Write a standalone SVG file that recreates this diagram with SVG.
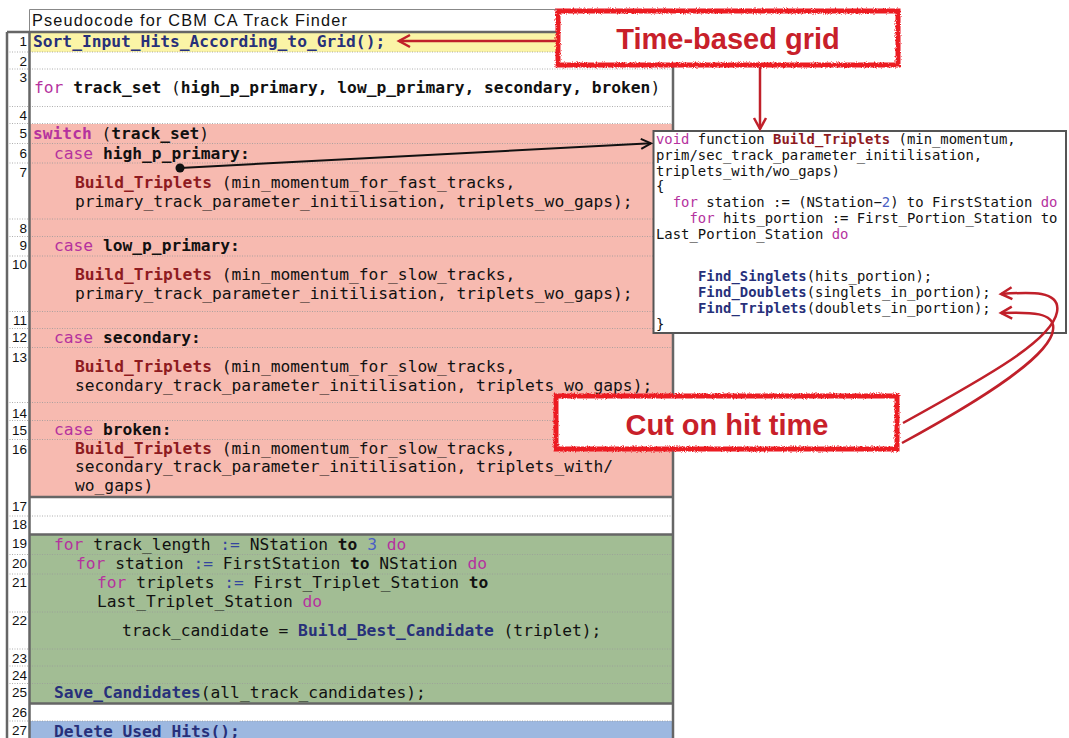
<svg xmlns="http://www.w3.org/2000/svg" width="1069" height="738" viewBox="0 0 1069 738">
<style>
.m{font-family:"DejaVu Sans Mono",monospace;font-size:16.25px;fill:#111;white-space:pre}
.p{font-family:"DejaVu Sans Mono",monospace;font-size:13.9px;fill:#111;white-space:pre}
.k{fill:#B5329E}
.b{font-weight:bold}
.fr{fill:#8E1B1F;font-weight:bold}
.fb{fill:#27307A;font-weight:bold}
.op{fill:#34459E}
.nb{fill:#4B5FC4}
.num{font-family:"Liberation Sans",Arial,sans-serif;font-size:13.5px;fill:#111;text-anchor:end}
.dot{stroke:#9a9a9a;stroke-width:0.8;stroke-dasharray:1 1.5;fill:none}
.thick{stroke:#666;stroke-width:2.5;fill:none}
.thin{stroke:#888;stroke-width:1;fill:none}
.note{fill:#fff;stroke:#EC1C24;stroke-width:5}
.notet{font-family:"Liberation Sans",Arial,sans-serif;font-weight:bold;font-size:29px;fill:#C8202A;text-anchor:middle}
.ra{stroke:#C0202A;stroke-width:2.5;fill:none}
</style>
<defs>
<filter id="rough" x="-5%" y="-20%" width="110%" height="140%">
<feTurbulence type="fractalNoise" baseFrequency="0.9" numOctaves="2" seed="4" result="n"/>
<feDisplacementMap in="SourceGraphic" in2="n" scale="3.5" xChannelSelector="R" yChannelSelector="G"/>
</filter>
<marker id="redhead" markerWidth="16" markerHeight="16" refX="13" refY="8" orient="auto" markerUnits="userSpaceOnUse">
<path d="M2,2 L13,8 L2,14" fill="none" stroke="#C0202A" stroke-width="2.5"/>
</marker>
<marker id="blackhead" markerWidth="16" markerHeight="14" refX="13" refY="7" orient="auto" markerUnits="userSpaceOnUse">
<path d="M3,2 L13,7 L3,12" fill="none" stroke="#111" stroke-width="2"/>
</marker>
</defs>
<rect width="1069" height="738" fill="#fff"/>

<g id="table">
<rect x="30" y="32" width="643" height="20" fill="#FBF4A6"/>
<rect x="30" y="124" width="643" height="373" fill="#F7BAB0"/>
<rect x="30" y="535" width="643" height="168" fill="#A2BD94"/>
<rect x="30" y="721" width="643" height="17" fill="#9DB8E0"/>
<path class="thin" d="M29.5,9.5 H673 M29.5,9.5 V32"/>
<text x="32" y="26" font-family="'Liberation Sans',Arial,sans-serif" font-size="16.3" fill="#111" textLength="315" lengthAdjust="spacing">Pseudocode for CBM CA Track Finder</text>
<path class="dot" d="M7,52 H673 M7,69 H673 M7,106.5 H673 M7,123.5 H673 M7,143.5 H673 M7,163 H673 M7,219 H673 M7,236.5 H673 M7,256 H673 M7,311.5 H673 M7,328.5 H673 M7,347.5 H673 M7,402.5 H673 M7,420.5 H673 M7,439.5 H673 M7,516 H673 M7,554.5 H673 M7,574 H673 M7,612 H673 M7,649 H673 M7,666 H673 M7,683.5 H673 M7,721 H673"/>
<path class="thick" d="M7,32 H673 M7,32 V738 M29.5,32 V738 M673,32 V738 M29.5,497 H673 M29.5,534.5 H673 M29.5,703.5 H673"/>
<text class="num" x="27" y="46">1</text>
<text class="num" x="27" y="66">2</text>
<text class="num" x="27" y="82">3</text>
<text class="num" x="27" y="120">4</text>
<text class="num" x="27" y="138">5</text>
<text class="num" x="27" y="158">6</text>
<text class="num" x="27" y="177">7</text>
<text class="num" x="27" y="233">8</text>
<text class="num" x="27" y="250">9</text>
<text class="num" x="27" y="268.5">10</text>
<text class="num" x="27" y="325">11</text>
<text class="num" x="27" y="341.5">12</text>
<text class="num" x="27" y="361.5">13</text>
<text class="num" x="27" y="418">14</text>
<text class="num" x="27" y="435">15</text>
<text class="num" x="27" y="454">16</text>
<text class="num" x="27" y="511">17</text>
<text class="num" x="27" y="529">18</text>
<text class="num" x="27" y="548">19</text>
<text class="num" x="27" y="567.5">20</text>
<text class="num" x="27" y="587">21</text>
<text class="num" x="27" y="624.5">22</text>
<text class="num" x="27" y="662.5">23</text>
<text class="num" x="27" y="680">24</text>
<text class="num" x="27" y="697">25</text>
<text class="num" x="27" y="717">26</text>
<text class="num" x="27" y="735">27</text>
<text class="m fb" x="33" y="47">Sort_Input_Hits_According_to_Grid();</text>
<text class="m" x="34" y="92.5"><tspan class="k">for</tspan> <tspan class="b">track_set</tspan> (<tspan class="b">high_p_primary, low_p_primary, secondary, broken</tspan>)</text>
<text class="m" x="33" y="138.5"><tspan class="k b">switch</tspan> (<tspan class="b">track_set</tspan>)</text>
<text class="m" x="54" y="158.5"><tspan class="k">case</tspan> <tspan class="b">high_p_primary:</tspan></text>
<text class="m" x="75" y="187.5"><tspan class="fr">Build_Triplets</tspan> (min_momentum_for_fast_tracks,</text>
<text class="m" x="75" y="206.5">primary_track_parameter_initilisation, triplets_wo_gaps);</text>
<text class="m" x="54" y="250.5"><tspan class="k">case</tspan> <tspan class="b">low_p_primary:</tspan></text>
<text class="m" x="75" y="279.5"><tspan class="fr">Build_Triplets</tspan> (min_momentum_for_slow_tracks,</text>
<text class="m" x="75" y="298.5">primary_track_parameter_initilisation, triplets_wo_gaps);</text>
<text class="m" x="54" y="343"><tspan class="k">case</tspan> <tspan class="b">secondary:</tspan></text>
<text class="m" x="75" y="372"><tspan class="fr">Build_Triplets</tspan> (min_momentum_for_slow_tracks,</text>
<text class="m" x="75" y="390.5">secondary_track_parameter_initilisation, triplets_wo_gaps);</text>
<text class="m" x="54" y="435"><tspan class="k">case</tspan> <tspan class="b">broken:</tspan></text>
<text class="m" x="75" y="453.5"><tspan class="fr">Build_Triplets</tspan> (min_momentum_for_slow_tracks,</text>
<text class="m" x="75" y="472">secondary_track_parameter_initilisation, triplets_with/</text>
<text class="m" x="75" y="490.5">wo_gaps)</text>
<text class="m" x="54" y="550"><tspan class="k">for</tspan> track_length <tspan class="op">:=</tspan> NStation <tspan class="b">to</tspan> <tspan class="nb">3</tspan> <tspan class="k">do</tspan></text>
<text class="m" x="76" y="569"><tspan class="k">for</tspan> station <tspan class="op">:=</tspan> FirstStation <tspan class="b">to</tspan> NStation <tspan class="k">do</tspan></text>
<text class="m" x="97" y="588"><tspan class="k">for</tspan> triplets <tspan class="op">:=</tspan> First_Triplet_Station <tspan class="b">to</tspan></text>
<text class="m" x="97" y="607">Last_Triplet_Station <tspan class="k">do</tspan></text>
<text class="m" x="122" y="635.5">track_candidate = <tspan class="fb">Build_Best_Candidate</tspan> (triplet);</text>
<text class="m" x="54" y="697.5"><tspan class="fb">Save_Candidates</tspan>(all_track_candidates);</text>
<text class="m fb" x="54" y="737">Delete_Used_Hits();</text>
</g>

<g id="popup">
<rect x="653.5" y="131" width="412.5" height="202" fill="#fff" stroke="#555" stroke-width="2"/>
<text class="p" x="656" y="144"><tspan class="k">void</tspan> function <tspan class="fr">Build_Triplets</tspan> (min_momentum,</text>
<text class="p" x="656" y="160">prim/sec_track_parameter_initilisation,</text>
<text class="p" x="656" y="176">triplets_with/wo_gaps)</text>
<text class="p" x="656" y="191">{</text>
<text class="p" x="672.7" y="207"><tspan class="k">for</tspan> station := (NStation−<tspan class="nb">2</tspan>) to FirstStation <tspan class="k">do</tspan></text>
<text class="p" x="689.5" y="223"><tspan class="k">for</tspan> hits_portion := First_Portion_Station to</text>
<text class="p" x="656" y="239">Last_Portion_Station <tspan class="k">do</tspan></text>
<text class="p" x="698" y="281"><tspan class="fb">Find_Singlets</tspan>(hits_portion);</text>
<text class="p" x="698" y="297"><tspan class="fb">Find_Doublets</tspan>(singlets_in_portion);</text>
<text class="p" x="698" y="313"><tspan class="fb">Find_Triplets</tspan>(doublets_in_portion);</text>
<text class="p" x="656" y="329">}</text>
</g>

<g id="note-time">
<rect class="note" x="558" y="11" width="340" height="54" filter="url(#rough)"/>
<text class="notet" x="728" y="49">Time-based grid</text>
</g>

<g id="note-cut">
<rect class="note" x="556" y="396" width="341" height="53" filter="url(#rough)"/>
<text class="notet" x="727" y="435">Cut on hit time</text>
</g>

<g id="connectors">
<path class="ra" d="M556,41 H399" marker-end="url(#redhead)"/>
<path class="ra" d="M760,67 V129" marker-end="url(#redhead)"/>
<path class="ra" d="M903,423 C990,375 1052,340 1057,312 C1061,290 1030,292 1001,294" marker-end="url(#redhead)"/>
<path class="ra" d="M902,443 C990,395 1050,355 1053,330 C1056,312 1030,312 1001,313" marker-end="url(#redhead)"/>
<path d="M180,168 L651,143.3" stroke="#111" stroke-width="2" fill="none" marker-end="url(#blackhead)"/>
<circle cx="180" cy="168" r="4.5" fill="#111"/>
</g>
</svg>
